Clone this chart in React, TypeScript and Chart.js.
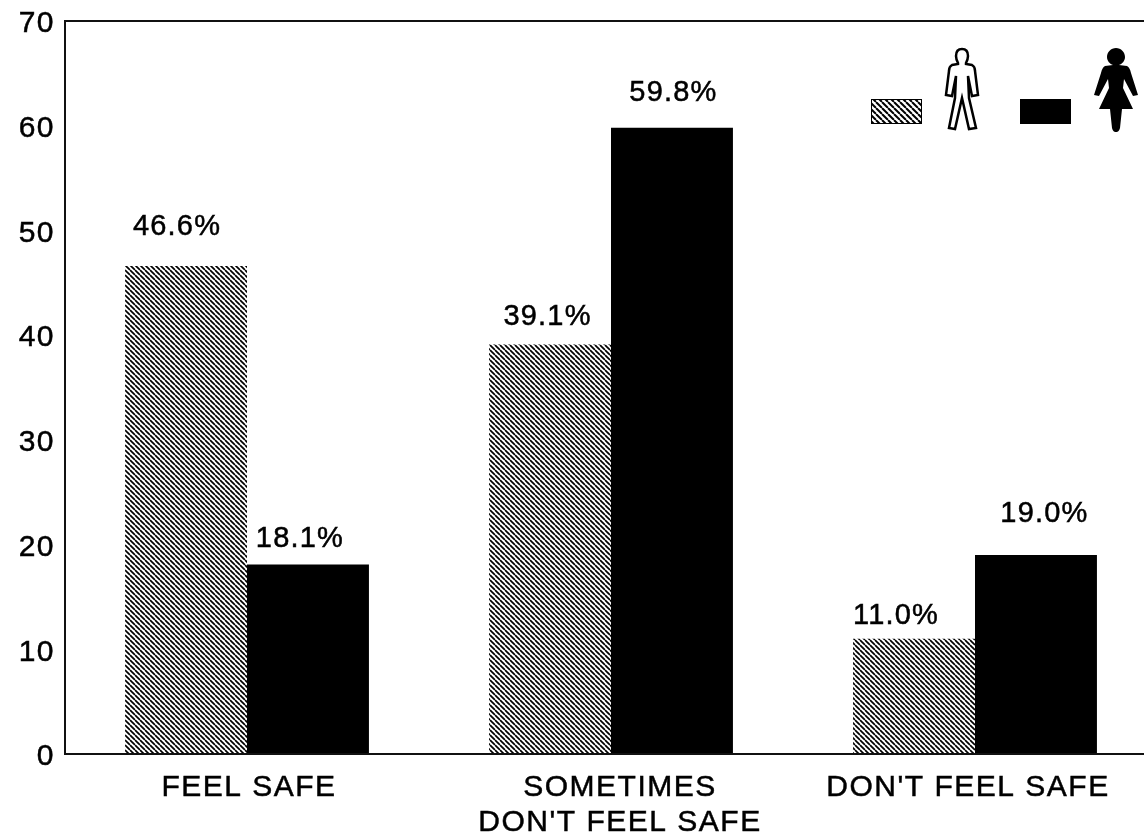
import React, { useEffect, useRef } from "react";
import { Chart, registerables } from "chart.js";

Chart.register(...registerables);

const categories = ["FEEL SAFE", ["SOMETIMES", "DON'T FEEL SAFE"], "DON'T FEEL SAFE"];
const menValues = [46.6, 39.1, 11.0];
const womenValues = [18.1, 59.8, 19.0];
const menLabels = ["46.6%", "39.1%", "11.0%"];
const womenLabels = ["18.1%", "59.8%", "19.0%"];
const FONT = '"Liberation Sans", Arial, sans-serif';

// Hand-placed label nudges seen in the original print, [dx, gap above bar]
const labelNudge = [
  [[-9, 31], [-2.5, 20], [-18, 15]],
  [[-8, 17], [1.5, 27], [8.5, 33.5]],
];
const categoryNudge = [2, 9, -7];

function hatch(s: number, w: number): CanvasPattern {
  const c = document.createElement("canvas");
  c.width = s;
  c.height = s;
  const x = c.getContext("2d")!;
  x.fillStyle = "#fff";
  x.fillRect(0, 0, s, s);
  x.strokeStyle = "#000";
  x.lineWidth = w;
  for (const o of [-s, 0, s]) {
    x.beginPath();
    x.moveTo(o, 0);
    x.lineTo(o + s, s);
    x.stroke();
  }
  return x.createPattern(c, "repeat")!;
}

const man =
  "M0 1C-4 1 -6 4 -6 8C-6 11 -5 13 -4 15L-4 16L-10 17C-12 18 -13 20 -13 23L-16 47L-10 48L-6 28L-7 50L-13 80L-7 81L0 50L7 81L14 80L7 50L6 28L10 48L16 47L13 23C13 20 12 18 10 17L4 16L4 15C5 13 6 11 6 8C6 4 4 1 0 1Z";
const woman =
  "M0 0C-5 0 -9 4 -9 9C-9 13 -6 16 -3 17L-11 18C-13 19 -14 21 -15 25L-22 47L-17 48L-8 31L-7 40L-17 61L-6 61L-4 80C-3 84 -1 84 0 84C1 84 3 84 4 80L6 61L17 61L7 40L8 31L17 48L22 47L15 25C14 21 13 19 11 18L3 17C6 16 9 13 9 9C9 4 5 0 0 0Z";

export default function App() {
  const ref = useRef<HTMLCanvasElement>(null);
  useEffect(() => {
    document.body.style.margin = "0";
    const pattern = hatch(5, 1.7);
    const legendPattern = hatch(6, 2);
    const chart = new Chart(ref.current!, {
      type: "bar",
      data: {
        labels: categories as any,
        datasets: [
          { label: "Men", data: menValues, backgroundColor: pattern, categoryPercentage: 0.67, barPercentage: 1 },
          { label: "Women", data: womenValues, backgroundColor: "#000", categoryPercentage: 0.67, barPercentage: 1 },
        ],
      },
      options: {
        animation: false,
        responsive: false,
        layout: { padding: { top: 21, right: 0, bottom: 0, left: 0 } },
        plugins: { legend: { display: false }, tooltip: { enabled: false } },
        scales: {
          x: {
            afterFit: (s: any) => {
              s.height = 83;
              s.paddingLeft = 0;
              s.paddingRight = 0;
            },
            grid: { display: false },
            border: { color: "#111", width: 2 },
            ticks: {
              color: "#000",
              font: { family: FONT, size: 30, lineHeight: 1.17 },
              padding: 8,
              maxRotation: 0,
              autoSkip: false,
              textStrokeColor: "#000",
              textStrokeWidth: 0.5,
            },
          },
          y: {
            min: 0,
            max: 70,
            afterFit: (s: any) => {
              s.width = 65;
              s.paddingTop = 0;
              s.paddingBottom = 0;
            },
            grid: {
              drawTicks: false,
              color: (c: any) => (c.tick && c.tick.value === 70 ? "#111" : "transparent"),
              lineWidth: 2,
            },
            border: { color: "#111", width: 2 },
            ticks: {
              stepSize: 10,
              color: "#000",
              font: { family: FONT, size: 30 },
              padding: 10,
              labelOffset: 3,
              textStrokeColor: "#000",
              textStrokeWidth: 0.5,
            },
          },
        },
      },
      plugins: [
        {
          id: "spacing",
          beforeDraw(c: any) {
            c.ctx.letterSpacing = "1.5px";
            c.scales.x.getLabelItems().forEach((item: any, i: number) => {
              if (!item.nudged) {
                item.options.translation[0] += categoryNudge[i];
                item.nudged = true;
              }
            });
          },
        },
        {
          id: "annot",
          afterDatasetsDraw(c: any) {
            const g = c.ctx;
            g.save();
            g.fillStyle = "#000";
            g.strokeStyle = "#000";
            g.lineWidth = 0.5;
            g.letterSpacing = "1.2px";
            g.font = `29px ${FONT}`;
            g.textAlign = "center";
            g.textBaseline = "alphabetic";
            [menLabels, womenLabels].forEach((labels, d) => {
              c.getDatasetMeta(d).data.forEach((b: any, i: number) => {
                const [dx, gap] = labelNudge[d][i];
                g.fillText(labels[i], b.x + dx, b.y - gap);
                g.strokeText(labels[i], b.x + dx, b.y - gap);
              });
            });
            g.fillStyle = legendPattern;
            g.fillRect(871, 99, 51, 25);
            g.lineWidth = 1;
            g.strokeRect(871.5, 99.5, 50, 24);
            g.fillStyle = "#000";
            g.fillRect(1020, 99, 51, 25);
            g.translate(962, 48);
            g.lineWidth = 2.5;
            g.stroke(new Path2D(man));
            g.setTransform(1, 0, 0, 1, 1116, 48);
            g.fill(new Path2D(woman));
            g.restore();
          },
        },
      ],
    } as any);
    return () => chart.destroy();
  }, []);
  return (
    <div style={{ width: 1144, height: 837, overflow: "hidden", background: "#fff" }}>
      <canvas ref={ref} width={1157} height={837} style={{ display: "block" }} />
    </div>
  );
}
